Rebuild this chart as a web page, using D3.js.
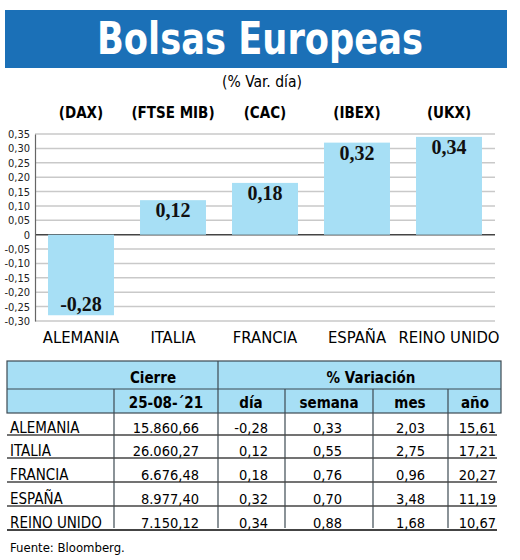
<!DOCTYPE html>
<html>
<head>
<meta charset="utf-8">
<script src="https://cdn.jsdelivr.net/npm/d3@7"></script>
<style>
  body { margin: 0; background: #fff; }
  text { font-family: "Liberation Sans Narrow", "DejaVu Sans Condensed", "Liberation Sans", sans-serif; }
</style>
</head>
<body>
<div id="chart"></div>
<script>
// datos
var paises = ["ALEMANIA", "ITALIA", "FRANCIA", "ESPAÑA", "REINO UNIDO"];
var indices = ["(DAX)", "(FTSE MIB)", "(CAC)", "(IBEX)", "(UKX)"];
var varDia = [-0.28, 0.12, 0.18, 0.32, 0.34];
var yTicks = [0.35, 0.30, 0.25, 0.20, 0.15, 0.10, 0.05, 0, -0.05, -0.10, -0.15, -0.20, -0.25, -0.30];

var cierre = [15860.66, 26060.27, 6676.48, 8977.40, 7150.12];
var varSemana = [0.33, 0.55, 0.76, 0.70, 0.88];
var varMes = [2.03, 2.75, 0.96, 3.48, 1.68];
var varAnio = [15.61, 17.21, 20.27, 11.19, 10.67];
var colHeaders = ["25-08-´21", "día", "semana", "mes", "año"];

var width = 520, height = 560;
var azul = "#1b70b7", celeste = "#a7dff5";

// formato español, con guion normal para negativos
var es = d3.formatLocale({decimal: ",", thousands: ".", grouping: [3], currency: ["", "€"], minus: "-"});
var fmt2 = es.format(",.2f");
var fmtTick = function(d) { return d === 0 ? "0" : es.format(".2f")(d); };

var svg = d3.select("#chart").append("svg")
  .attr("width", width)
  .attr("height", height);

// titulo
svg.append("rect")
  .attr("x", 5).attr("y", 10)
  .attr("width", 502).attr("height", 58)
  .attr("fill", azul);

svg.append("text")
  .attr("x", 260).attr("y", 54)
  .attr("text-anchor", "middle")
  .attr("textLength", 326)
  .attr("lengthAdjust", "spacingAndGlyphs")
  .style("font-size", "44px")
  .style("font-weight", "bold")
  .style("fill", "#fff")
  .text("Bolsas Europeas");

svg.append("text")
  .attr("x", 262).attr("y", 87)
  .attr("text-anchor", "middle")
  .style("font-size", "15.5px")
  .text("(% Var. día)");

// escalas
var x = d3.scaleBand()
  .domain(paises)
  .range([35, 495])
  .paddingInner(0.283)
  .paddingOuter(0.1415);

var y = d3.scaleLinear()
  .domain([-0.30, 0.35])
  .range([321, 134]);

// rejilla
svg.append("g")
  .selectAll("line")
  .data(yTicks)
  .enter()
  .append("line")
  .attr("x1", 35).attr("x2", 495)
  .attr("y1", d => y(d)).attr("y2", d => y(d))
  .attr("stroke", d => d === 0 ? "#444" : "#c9c9c9")
  .attr("stroke-width", 1.5);

// eje y
var yAxis = d3.axisLeft(y).tickValues(yTicks).tickFormat(fmtTick).tickSize(0).tickPadding(5);
var gy = svg.append("g")
  .attr("transform", "translate(35,0)")
  .call(yAxis);
gy.select(".domain").attr("stroke", "#666").attr("stroke-width", 1.2);
gy.selectAll("text")
  .style("font-family", "'Liberation Sans Narrow', 'DejaVu Sans Condensed', sans-serif")
  .style("font-size", "11px")
  .attr("fill", "#222");

// barras
svg.append("g")
  .selectAll("rect")
  .data(varDia)
  .enter()
  .append("rect")
  .attr("x", (d, i) => x(paises[i]))
  .attr("width", x.bandwidth())
  .attr("y", d => y(Math.max(0, d)))
  .attr("height", d => Math.abs(y(d) - y(0)))
  .attr("fill", celeste);

// valores en barras
svg.append("g")
  .selectAll("text")
  .data(varDia)
  .enter()
  .append("text")
  .attr("x", (d, i) => x(paises[i]) + x.bandwidth() / 2)
  .attr("y", d => d >= 0 ? y(d) + 17 : y(d) - 4)
  .attr("text-anchor", "middle")
  .style("font-family", "'Liberation Serif', 'DejaVu Serif', serif")
  .style("font-size", "20px")
  .style("font-weight", "bold")
  .style("fill", "#111")
  .text(d => es.format(".2f")(d));

// indices arriba
svg.append("g")
  .selectAll("text")
  .data(indices)
  .enter()
  .append("text")
  .attr("x", (d, i) => x(paises[i]) + x.bandwidth() / 2)
  .attr("y", 118)
  .attr("text-anchor", "middle")
  .style("font-size", "15px")
  .style("font-weight", "bold")
  .text(d => d);

// paises abajo
svg.append("g")
  .selectAll("text")
  .data(paises)
  .enter()
  .append("text")
  .attr("x", d => x(d) + x.bandwidth() / 2)
  .attr("y", 343)
  .attr("text-anchor", "middle")
  .style("font-size", "16.5px")
  .text(d => d);

// tabla
var tLeft = 7, tRight = 501;
var colEdges = [114, 218, 285, 373, 448];
var colRight = [199, 268, 342, 425, 496];
var colCenter = [166, 251, 329, 410, 475];
var rowLineY = [435, 458, 482, 506, 530];
var filas = paises.map(function(p, i) {
  return [fmt2(cierre[i]), fmt2(varDia[i]), fmt2(varSemana[i]), fmt2(varMes[i]), fmt2(varAnio[i])];
});

var tabla = svg.append("g");

tabla.append("rect")
  .attr("x", tLeft).attr("y", 361)
  .attr("width", tRight - tLeft).attr("height", 52)
  .attr("fill", celeste)
  .attr("stroke", "#3d4a52").attr("stroke-width", 1.2);

tabla.append("line")
  .attr("x1", tLeft).attr("x2", tRight)
  .attr("y1", 389).attr("y2", 389)
  .attr("stroke", "#3d4a52").attr("stroke-width", 1.2);

// separador vertical cabecera 1
tabla.append("line")
  .attr("x1", 218).attr("x2", 218)
  .attr("y1", 361).attr("y2", 389)
  .attr("stroke", "#3d4a52").attr("stroke-width", 1.2);

// separadores cabecera 2 y cuerpo
tabla.selectAll(".sep")
  .data(colEdges)
  .enter()
  .append("line")
  .attr("class", "sep")
  .attr("x1", d => d).attr("x2", d => d)
  .attr("y1", 389).attr("y2", 528)
  .attr("stroke", "#3d4a52").attr("stroke-width", 1.2);

tabla.append("text")
  .attr("x", 153).attr("y", 383)
  .attr("text-anchor", "middle")
  .style("font-size", "15px").style("font-weight", "bold")
  .text("Cierre");

tabla.append("text")
  .attr("x", 371).attr("y", 383)
  .attr("text-anchor", "middle")
  .style("font-size", "15px").style("font-weight", "bold")
  .text("% Variación");

tabla.selectAll(".hdr")
  .data(colHeaders)
  .enter()
  .append("text")
  .attr("class", "hdr")
  .attr("x", (d, i) => colCenter[i])
  .attr("y", 408)
  .attr("text-anchor", "middle")
  .style("font-size", "15px").style("font-weight", "bold")
  .text(d => d);

// lineas de filas
tabla.selectAll(".rl")
  .data(rowLineY)
  .enter()
  .append("line")
  .attr("class", "rl")
  .attr("x1", tLeft).attr("x2", 497)
  .attr("y1", d => d).attr("y2", d => d)
  .attr("stroke", "#444")
  .attr("stroke-width", (d, i) => i === rowLineY.length - 1 ? 2.2 : 1.6);

var fila = tabla.selectAll(".fila")
  .data(filas)
  .enter()
  .append("g")
  .attr("class", "fila")
  .attr("transform", (d, i) => "translate(0," + (rowLineY[i] - 2) + ")");

fila.append("text")
  .attr("x", 10)
  .style("font-size", "15px")
  .text((d, i) => paises[i]);

fila.selectAll(".v")
  .data(d => d)
  .enter()
  .append("text")
  .attr("class", "v")
  .attr("x", (d, j) => colRight[j])
  .attr("text-anchor", "end")
  .style("font-size", "14.5px")
  .text(d => d);

svg.append("text")
  .attr("x", 10).attr("y", 552)
  .style("font-size", "13px")
  .text("Fuente: Bloomberg.");
</script>
</body>
</html>
